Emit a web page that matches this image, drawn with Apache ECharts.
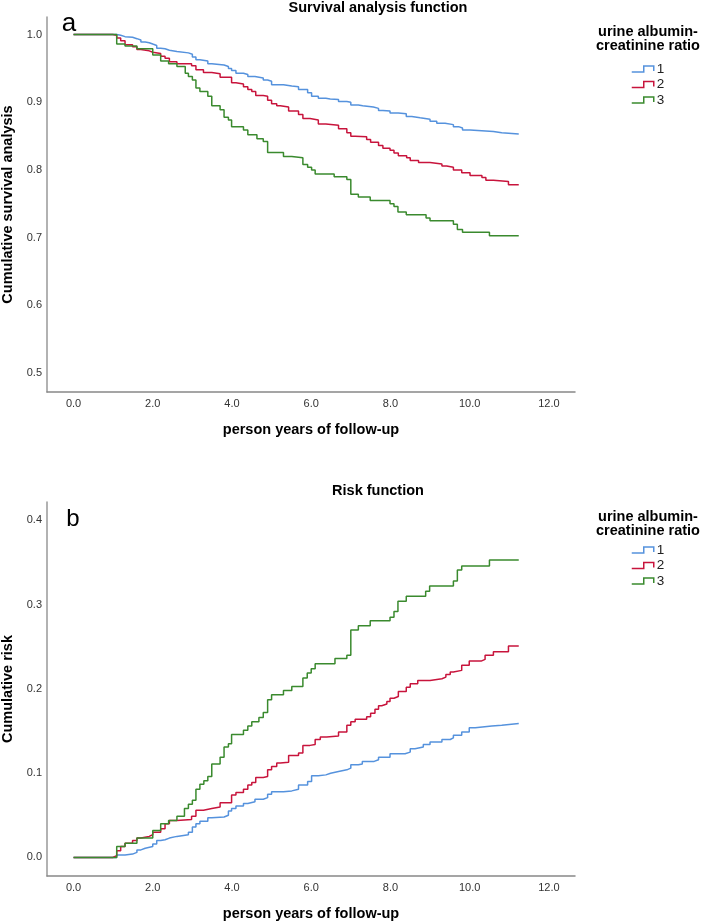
<!DOCTYPE html>
<html>
<head>
<meta charset="utf-8">
<script src="https://cdn.jsdelivr.net/npm/echarts@6/dist/echarts.min.js"></script>
<style>
  html, body { margin: 0; padding: 0; background: #fff; }
  #div_chart { width: 704px; height: 924px; }
</style>
</head>
<body>
<div id="div_chart"></div>
<script>
"use strict";

// values (person years, cumulative survival / risk)
const surv_time_1 = [0, 1.09, 1.19, 1.30, 1.49, 1.60, 1.70, 1.81, 1.91, 2.00, 2.10, 2.20, 2.31, 2.42, 2.61, 2.90, 3.00, 3.09, 3.19, 3.39, 3.49, 3.80, 3.91, 3.99, 4.10, 4.29, 4.40, 4.58, 4.79, 4.90, 5.00, 5.30, 5.51, 5.68, 5.91, 6.01, 6.18, 6.37, 6.48, 6.69, 6.90, 7.00, 7.19, 7.30, 7.57, 7.70, 7.81, 7.99, 8.20, 8.40, 8.54, 8.75, 9.00, 9.17, 9.38, 9.59, 9.72, 9.82, 10.01, 10.60, 10.81, 11.24];
const surv_val_1 = [1.0, .999, .997, .996, .994, .992, .989, .988, .986, .984, .980, .979, .977, .975, .973, .971, .967, .963, .961, .957, .955, .953, .950, .947, .943, .941, .938, .936, .933, .931, .926, .924, .923, .919, .914, .909, .906, .905, .904, .901, .900, .896, .895, .893, .891, .888, .887, .884, .883, .879, .877, .875, .872, .869, .867, .864, .862, .859, .857, .855, .853, .853];

const surv_time_2 = [0, 0.99, 1.09, 1.19, 1.30, 1.49, 1.60, 1.70, 1.91, 2.00, 2.20, 2.31, 2.42, 2.61, 2.98, 3.09, 3.28, 3.49, 3.70, 3.99, 4.10, 4.29, 4.40, 4.50, 4.60, 4.79, 4.90, 5.00, 5.13, 5.22, 5.43, 5.68, 5.79, 5.97, 6.18, 6.37, 6.69, 6.90, 7.00, 7.11, 7.40, 7.50, 7.70, 7.81, 7.99, 8.09, 8.20, 8.41, 8.50, 8.71, 9.00, 9.30, 9.42, 9.59, 9.80, 10.01, 10.31, 10.41, 10.60, 10.98, 11.24];
const surv_val_2 = [1.0, .999, .995, .991, .985, .982, .978, .976, .974, .972, .968, .965, .960, .957, .954, .948, .944, .942, .937, .929, .927, .923, .919, .916, .910, .909, .903, .898, .895, .893, .887, .882, .876, .874, .868, .866, .861, .855, .850, .849, .845, .841, .836, .832, .829, .825, .821, .818, .814, .811, .809, .806, .804, .800, .796, .792, .789, .785, .783, .778, .778];

const surv_time_3 = [0, 1.09, 1.30, 1.60, 2.00, 2.20, 2.40, 2.61, 2.82, 2.90, 3.00, 3.09, 3.19, 3.39, 3.49, 3.70, 3.80, 3.91, 3.99, 4.29, 4.40, 4.63, 4.79, 4.90, 5.30, 5.51, 5.79, 5.91, 6.01, 6.10, 6.58, 6.90, 7.00, 7.19, 7.49, 7.99, 8.09, 8.19, 8.40, 8.90, 9.00, 9.59, 9.69, 9.82, 10.50, 11.24];
const surv_val_3 = [1.0, .986, .983, .979, .970, .961, .957, .953, .943, .938, .933, .921, .916, .909, .895, .889, .878, .874, .864, .859, .852, .846, .842, .826, .820, .818, .808, .804, .800, .794, .790, .786, .764, .760, .755, .750, .746, .738, .734, .729, .725, .720, .712, .708, .703, .703];

const risk_time_1 = [0, 1.09, 1.30, 1.49, 1.60, 1.70, 1.81, 2.00, 2.10, 2.20, 2.31, 2.42, 2.61, 2.90, 3.00, 3.09, 3.19, 3.39, 3.49, 3.80, 3.91, 3.99, 4.10, 4.29, 4.40, 4.58, 4.79, 4.90, 5.00, 5.30, 5.51, 5.68, 5.91, 6.01, 6.18, 6.37, 6.49, 6.69, 6.90, 7.00, 7.19, 7.29, 7.59, 7.70, 7.99, 8.37, 8.50, 8.62, 8.83, 9.00, 9.30, 9.51, 9.59, 9.80, 9.99, 10.14, 10.56, 10.81, 11.24];
const risk_val_1 = [0, .003, .004, .006, .009, .011, .013, .016, .020, .021, .023, .025, .027, .030, .036, .040, .043, .047, .048, .050, .055, .058, .061, .064, .066, .069, .071, .075, .078, .079, .081, .086, .090, .097, .098, .100, .102, .104, .106, .110, .111, .114, .116, .119, .123, .125, .129, .131, .134, .137, .140, .142, .145, .149, .154, .156, .157, .159, .159];

const risk_time_2 = [0, 0.99, 1.09, 1.19, 1.30, 1.49, 1.60, 1.70, 1.91, 2.00, 2.20, 2.31, 2.42, 2.61, 2.98, 3.09, 3.28, 3.49, 3.70, 3.99, 4.10, 4.29, 4.40, 4.50, 4.60, 4.79, 4.90, 5.00, 5.13, 5.22, 5.43, 5.68, 5.79, 5.97, 6.10, 6.23, 6.39, 6.69, 6.90, 7.00, 7.11, 7.40, 7.50, 7.61, 7.70, 7.78, 7.91, 7.99, 8.09, 8.20, 8.40, 8.50, 8.69, 9.00, 9.30, 9.40, 9.51, 9.59, 9.80, 9.99, 10.29, 10.39, 10.60, 10.98, 11.24];
const risk_val_2 = [0, .002, .008, .013, .017, .020, .023, .025, .027, .030, .034, .040, .044, .045, .049, .056, .058, .060, .065, .074, .077, .081, .086, .089, .095, .096, .104, .108, .112, .113, .121, .124, .133, .134, .140, .143, .144, .149, .157, .161, .164, .167, .171, .176, .180, .182, .185, .189, .191, .197, .202, .206, .210, .212, .214, .217, .220, .222, .228, .233, .235, .240, .244, .251, .251];

const risk_time_3 = [0, 1.09, 1.30, 1.60, 2.00, 2.20, 2.40, 2.61, 2.80, 2.90, 3.00, 3.09, 3.19, 3.29, 3.39, 3.49, 3.70, 3.80, 3.91, 3.99, 4.29, 4.40, 4.50, 4.68, 4.79, 4.90, 5.00, 5.30, 5.51, 5.79, 5.90, 6.00, 6.10, 6.60, 6.90, 7.00, 7.19, 7.49, 7.99, 8.09, 8.19, 8.40, 8.89, 8.99, 9.59, 9.69, 9.80, 10.50, 11.24];
const risk_val_3 = [0, .013, .017, .023, .032, .040, .044, .049, .058, .063, .068, .081, .087, .091, .096, .111, .119, .131, .135, .146, .151, .156, .161, .166, .172, .187, .193, .198, .203, .213, .219, .224, .230, .236, .240, .270, .275, .281, .285, .292, .304, .310, .316, .322, .328, .341, .346, .353, .353];

const group_names = ["1", "2", "3"];
const x_ticks = [0, 2, 4, 6, 8, 10, 12];
const y_ticks_surv = [0.5, 0.6, 0.7, 0.8, 0.9, 1.0];
const y_ticks_risk = [0, 0.1, 0.2, 0.3, 0.4];

const colors = ["#5592dd", "#c8143c", "#3a8a2e"];
const font = "Liberation Sans";
const step_icon = "path://M0,6 L12,6 L12,0 L22,0 L22,5";

const html_div_chart = document.getElementById("div_chart");
const chart = echarts.init(html_div_chart);

function to_pairs(times, vals) {
  return times.map((t, i) => [t, vals[i]]);
}

function make_x_axis(grid_index) {
  return {
    type: "value",
    gridIndex: grid_index,
    min: -0.67,
    max: 12.66,
    name: "person years of follow-up",
    nameLocation: "middle",
    nameGap: 30,
    nameTextStyle: { fontWeight: "bold", fontSize: 14.5, color: "#000", fontFamily: font },
    axisLine: { show: true, onZero: false, lineStyle: { color: "#888", width: 1.5 } },
    axisTick: { show: false },
    splitLine: { show: false },
    axisLabel: {
      customValues: x_ticks,
      formatter: v => v.toFixed(1),
      fontSize: 11, color: "#333", margin: 6, fontFamily: font
    }
  };
}

function make_y_axis(grid_index, name, min, max, ticks) {
  return {
    type: "value",
    gridIndex: grid_index,
    min: min,
    max: max,
    name: name,
    nameLocation: "middle",
    nameGap: 30,
    nameTextStyle: { fontWeight: "bold", fontSize: 14.5, color: "#000", fontFamily: font },
    axisLine: { show: true, onZero: false, lineStyle: { color: "#999", width: 1.5 } },
    axisTick: { show: false },
    splitLine: { show: false },
    axisLabel: {
      customValues: ticks,
      formatter: v => v.toFixed(1),
      fontSize: 11, color: "#333", margin: 5, fontFamily: font
    }
  };
}

function make_series(name, grid_index, times, vals, color) {
  return {
    type: "line",
    name: name,
    step: "end",
    xAxisIndex: grid_index,
    yAxisIndex: grid_index,
    data: to_pairs(times, vals),
    symbol: "none",
    color: color,
    lineStyle: { color: color, width: 1.5 },
    silent: true
  };
}

function make_legend(top) {
  return {
    orient: "vertical",
    left: 631,
    top: top,
    padding: 0,
    itemWidth: 22,
    itemHeight: 6,
    itemGap: 1.5,
    icon: step_icon,
    selectedMode: false,
    textStyle: { fontSize: 13.5, color: "#222", fontFamily: font, padding: [0, 0, 0, -2] },
    data: group_names.map((n, i) => ({
      name: n,
      itemStyle: { color: "transparent", borderColor: colors[i], borderWidth: 1.5 }
    }))
  };
}

function make_text(text, x, y, size, weight) {
  return {
    type: "text",
    x: x,
    y: y,
    style: {
      text: text,
      fontSize: size,
      fontWeight: weight,
      fontFamily: font,
      fill: "#000",
      align: "center",
      verticalAlign: "middle"
    }
  };
}

chart.setOption({
  animation: false,
  textStyle: { fontFamily: font },
  grid: [
    { left: 47, right: 129, top: 17, bottom: 532, outerBoundsMode: "none" },
    { left: 47, right: 129, top: 502, bottom: 48, outerBoundsMode: "none" }
  ],
  xAxis: [make_x_axis(0), make_x_axis(1)],
  yAxis: [
    make_y_axis(0, "Cumulative survival analysis", 0.472, 1.026, y_ticks_surv),
    make_y_axis(1, "Cumulative risk", -0.022, 0.4218, y_ticks_risk)
  ],
  legend: [make_legend(62), make_legend(543)],
  series: [
    make_series(group_names[0], 0, surv_time_1, surv_val_1, colors[0]),
    make_series(group_names[1], 0, surv_time_2, surv_val_2, colors[1]),
    make_series(group_names[2], 0, surv_time_3, surv_val_3, colors[2]),
    make_series(group_names[0], 1, risk_time_1, risk_val_1, colors[0]),
    make_series(group_names[1], 1, risk_time_2, risk_val_2, colors[1]),
    make_series(group_names[2], 1, risk_time_3, risk_val_3, colors[2])
  ],
  graphic: [
    make_text("Survival analysis function", 378, 8, 14.5, "bold"),
    make_text("Risk function", 378, 491, 14.5, "bold"),
    make_text("a", 69, 24, 26, "normal"),
    make_text("b", 73, 519, 24, "normal"),
    make_text("urine albumin-", 648, 32, 14.5, "bold"),
    make_text("creatinine ratio", 648, 46, 14.5, "bold"),
    make_text("urine albumin-", 648, 517, 14.5, "bold"),
    make_text("creatinine ratio", 648, 531, 14.5, "bold")
  ]
});
</script>
</body>
</html>
